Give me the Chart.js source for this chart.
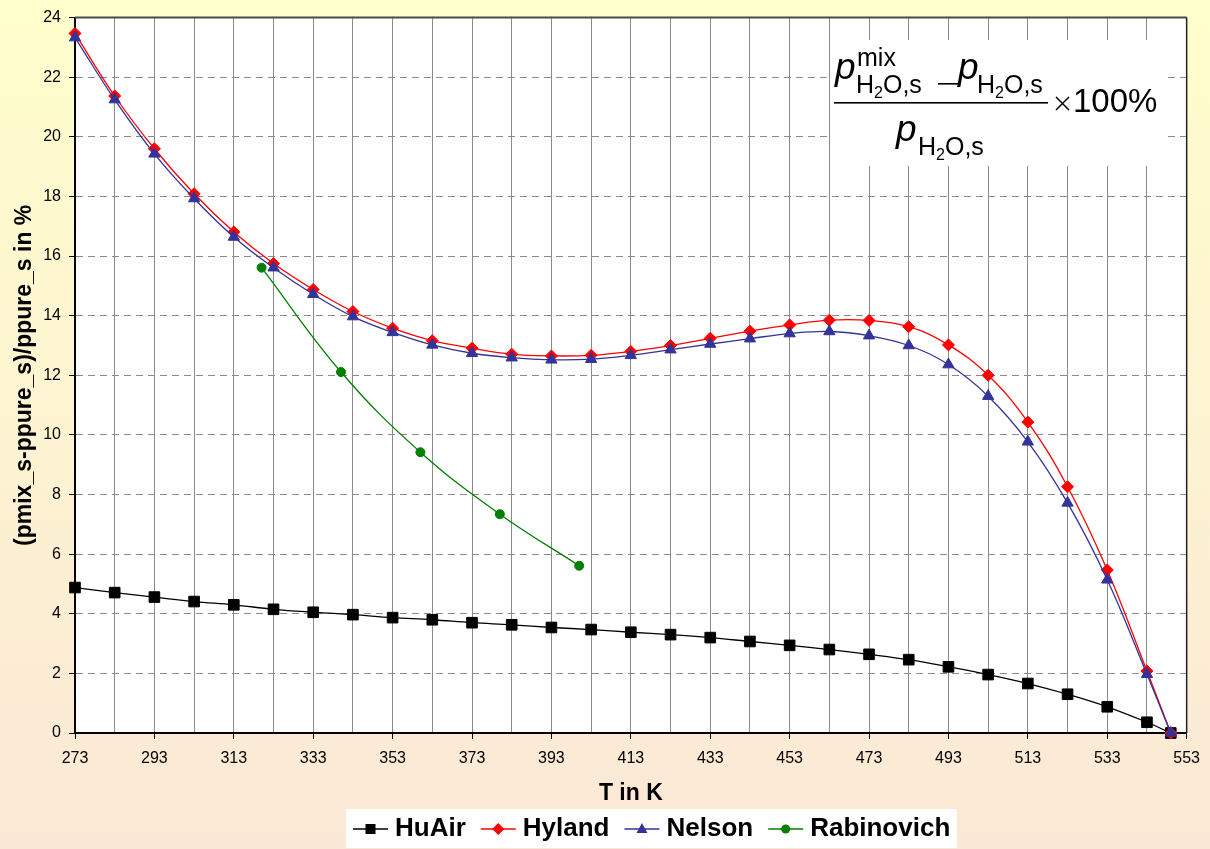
<!DOCTYPE html>
<html>
<head>
<meta charset="utf-8">
<title>Saturation vapour pressure enhancement</title>
<script src="https://cdn.jsdelivr.net/npm/chart.js@4.4.0/dist/chart.umd.min.js"></script>
<style>
  html, body { margin: 0; padding: 0; background: #fff; overflow: hidden; }
  #wrap { width: 1210px; height: 849px; }
</style>
</head>
<body>
<div id="wrap"><canvas id="chart" width="1210" height="849"></canvas></div>
<script>
// temperatures in K
const temps = [273, 283, 293, 303, 313, 323, 333, 343, 353, 363, 373, 383, 393, 403, 413,
               423, 433, 443, 453, 463, 473, 483, 493, 503, 513, 523, 533, 543, 549];

const huAir = [4.88, 4.71, 4.56, 4.41, 4.30, 4.15, 4.05, 3.97, 3.87, 3.80, 3.70, 3.63, 3.54, 3.47, 3.38,
               3.30, 3.20, 3.07, 2.94, 2.80, 2.64, 2.46, 2.22, 1.96, 1.66, 1.30, 0.88, 0.36, 0];

const hyland = [23.47, 21.37, 19.60, 18.09, 16.81, 15.75, 14.88, 14.14, 13.58, 13.16, 12.91, 12.71, 12.65, 12.67, 12.80,
                13.00, 13.24, 13.48, 13.69, 13.85, 13.84, 13.63, 13.02, 12.00, 10.43, 8.26, 5.47, 2.08, 0];

const nelson = [23.33, 21.25, 19.43, 17.93, 16.64, 15.61, 14.72, 13.97, 13.44, 13.02, 12.74, 12.59, 12.52, 12.54, 12.67,
                12.86, 13.05, 13.23, 13.40, 13.47, 13.33, 13.00, 12.36, 11.30, 9.77, 7.72, 5.14, 1.97, 0];

const rabTemps = [320, 340, 360, 380, 400];
const rabinovich = [15.61, 12.11, 9.42, 7.34, 5.61];

const FONT = 'Arial, "Liberation Sans", sans-serif';

const legendItems = [
    { label: 'HuAir', color: '#000000', marker: 'square' },
    { label: 'Hyland', color: '#FF0000', marker: 'diamond' },
    { label: 'Nelson', color: '#333399', marker: 'triangle' },
    { label: 'Rabinovich', color: '#008000', marker: 'circle' }
];

function pts(xs, ys) {
    return xs.map((x, i) => ({ x: x, y: ys[i] }));
}

function drawMarker(ctx, kind, x, y, color) {
    ctx.fillStyle = color;
    ctx.beginPath();
    if (kind === 'square') {
        ctx.rect(x - 5, y - 5, 10, 10);
    } else if (kind === 'diamond') {
        ctx.moveTo(x, y - 6); ctx.lineTo(x + 6, y); ctx.lineTo(x, y + 6); ctx.lineTo(x - 6, y);
    } else if (kind === 'triangle') {
        ctx.moveTo(x, y - 6); ctx.lineTo(x + 5.5, y + 4); ctx.lineTo(x - 5.5, y + 4);
    } else {
        ctx.arc(x, y, 4.5, 0, Math.PI * 2);
    }
    ctx.closePath();
    ctx.fill();
}

// H2O,s subscript helper
function drawSub(ctx, x, y) {
    ctx.font = '25px ' + FONT;
    ctx.fillText('H', x, y);
    x += ctx.measureText('H').width;
    ctx.font = '16px ' + FONT;
    ctx.fillText('2', x, y + 5);
    x += ctx.measureText('2').width;
    ctx.font = '25px ' + FONT;
    ctx.fillText('O,s', x, y);
}

function drawFormula(ctx) {
    ctx.save();
    ctx.fillStyle = '#fff';
    ctx.fillRect(830, 40, 337, 126);
    ctx.fillStyle = '#000';
    ctx.textAlign = 'left';
    ctx.textBaseline = 'alphabetic';

    // numerator
    ctx.font = 'italic 37px ' + FONT;
    ctx.fillText('p', 835, 79);
    ctx.font = '25px ' + FONT;
    ctx.fillText('mix', 857, 66);
    drawSub(ctx, 856, 93);
    ctx.fillRect(938, 83, 22, 1.6);
    ctx.font = 'italic 37px ' + FONT;
    ctx.fillText('p', 958, 79);
    drawSub(ctx, 977, 93);

    // fraction bar
    ctx.fillRect(834, 102, 214, 1.6);

    // x 100%
    ctx.strokeStyle = '#000';
    ctx.lineWidth = 1.5;
    ctx.beginPath();
    ctx.moveTo(1056, 97); ctx.lineTo(1069, 110);
    ctx.moveTo(1069, 97); ctx.lineTo(1056, 110);
    ctx.stroke();
    ctx.font = '33px ' + FONT;
    ctx.fillText('100%', 1073, 112);

    // denominator
    ctx.font = 'italic 37px ' + FONT;
    ctx.fillText('p', 896, 141);
    drawSub(ctx, 918, 155);
    ctx.restore();
}

const decor = {
    id: 'decor',
    beforeDraw(chart) {
        const { ctx, width, height, chartArea: a } = chart;
        ctx.save();
        const g = ctx.createLinearGradient(0, 0, 0, height);
        g.addColorStop(0, '#FFFECC');
        g.addColorStop(1, '#FBE8D6');
        ctx.fillStyle = g;
        ctx.fillRect(0, 0, width, height);
        ctx.fillStyle = '#fff';
        ctx.fillRect(a.left, a.top, a.right - a.left, a.bottom - a.top);
        ctx.restore();
    },
    beforeDatasetsDraw(chart) {
        const { ctx, chartArea: a } = chart;
        drawFormula(ctx);
        ctx.save();
        ctx.strokeStyle = '#4a4a4a';
        ctx.lineWidth = 2;
        ctx.beginPath();
        ctx.moveTo(a.left, a.top); ctx.lineTo(a.right, a.top);
        ctx.stroke();
        ctx.strokeStyle = '#222';
        ctx.lineWidth = 1.5;
        ctx.beginPath();
        ctx.moveTo(a.right, a.top); ctx.lineTo(a.right, a.bottom);
        ctx.stroke();
        ctx.restore();
    },
    afterDraw(chart) {
        const ctx = chart.ctx;
        ctx.save();
        ctx.fillStyle = '#fff';
        ctx.fillRect(346, 809, 611, 39);
        ctx.font = 'bold 26px ' + FONT;
        ctx.textBaseline = 'middle';
        ctx.textAlign = 'left';
        let x = 353;
        const y = 829;
        legendItems.forEach(it => {
            ctx.strokeStyle = it.color;
            ctx.lineWidth = 1.5;
            ctx.beginPath();
            ctx.moveTo(x, y); ctx.lineTo(x + 35, y);
            ctx.stroke();
            drawMarker(ctx, it.marker, x + 17.5, y, it.color);
            x += 42;
            ctx.fillStyle = '#000';
            ctx.fillText(it.label, x, y);
            x += ctx.measureText(it.label).width + 15;
        });
        ctx.restore();
    }
};

const lineStyle = (color, style, radius) => ({
    borderColor: color,
    backgroundColor: color,
    pointBackgroundColor: color,
    pointBorderColor: color,
    borderWidth: 1.3,
    pointBorderWidth: 1,
    pointStyle: style,
    pointRadius: radius,
    pointHoverRadius: radius,
    tension: 0.4,
    fill: false,
    clip: false
});

new Chart(document.getElementById('chart'), {
    type: 'line',
    data: {
        datasets: [
            Object.assign({ label: 'HuAir', data: pts(temps, huAir), order: 3 }, lineStyle('#000000', 'rect', 7.5)),
            Object.assign({ label: 'Hyland', data: pts(temps, hyland), order: 2 }, lineStyle('#FF0000', 'rectRot', 6)),
            Object.assign({ label: 'Nelson', data: pts(temps, nelson), order: 1 }, lineStyle('#333399', 'triangle', 6.5)),
            Object.assign({ label: 'Rabinovich', data: pts(rabTemps, rabinovich), order: 0 }, lineStyle('#008000', 'circle', 4.5))
        ]
    },
    options: {
        responsive: false,
        animation: false,
        events: [],
        layout: { padding: { left: 0, top: 15, right: 23, bottom: 41 } },
        plugins: {
            legend: { display: false },
            tooltip: { enabled: false }
        },
        scales: {
            x: {
                type: 'linear',
                min: 273,
                max: 553,
                afterFit: s => { s.height = 75; },
                ticks: {
                    stepSize: 10,
                    autoSkip: false,
                    maxRotation: 0,
                    padding: 10,
                    color: '#000',
                    font: { family: FONT, size: 16 },
                    callback: v => ((Math.round(v) - 273) % 20 === 0 ? String(Math.round(v)) : '')
                },
                grid: {
                    color: '#8a8a8a',
                    lineWidth: 1,
                    tickLength: 6,
                    tickColor: c => (c.tick && (Math.round(c.tick.value) - 273) % 20 === 0 ? '#000' : 'rgba(0,0,0,0)')
                },
                border: { display: true, color: '#000', width: 2 },
                title: {
                    display: true,
                    text: 'T in K',
                    color: '#000',
                    font: { family: FONT, size: 23, weight: 'bold' },
                    padding: { top: 0, bottom: 1 }
                }
            },
            y: {
                min: 0,
                max: 24,
                afterFit: s => { s.width = 75; },
                ticks: {
                    stepSize: 2,
                    padding: 8,
                    color: '#000',
                    font: { family: FONT, size: 16 }
                },
                grid: {
                    color: '#8a8a8a',
                    lineWidth: 1,
                    tickLength: 6,
                    tickColor: '#000',
                    tickBorderDash: []
                },
                border: { display: true, color: '#000', width: 2, dash: [7, 5] },
                title: {
                    display: true,
                    text: '(pmix_s-ppure_s)/ppure_s in %',
                    color: '#000',
                    font: { family: FONT, size: 23, weight: 'bold' },
                    padding: { top: 11, bottom: 0 }
                }
            }
        }
    },
    plugins: [decor]
});
</script>
</body>
</html>
